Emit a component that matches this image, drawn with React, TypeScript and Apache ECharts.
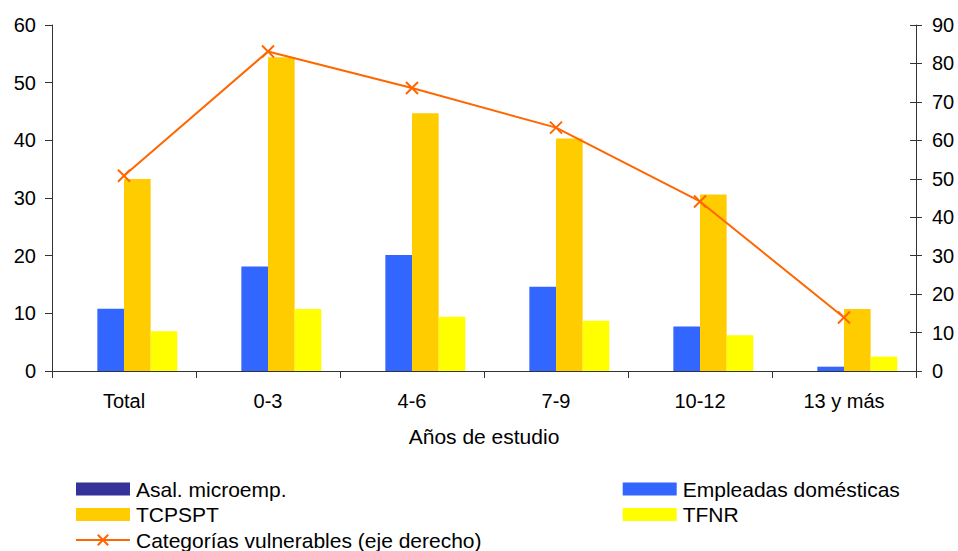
import React, { useEffect, useRef } from "react";
import * as echarts from "echarts";

const categories = ["Total", "0-3", "4-6", "7-9", "10-12", "13 y más"];
const asalMicroemp = [null, null, null, null, null, null];
const empleadasDomesticas = [10.8, 18.1, 20.1, 14.6, 7.7, 0.75];
const tcpspt = [33.3, 54.4, 44.7, 40.3, 30.6, 10.75];
const tfnr = [6.9, 10.75, 9.4, 8.7, 6.2, 2.5];
const categoriasVulnerables = [50.8, 83.1, 73.6, 63.3, 44.1, 13.9];
const leftTicks = { min: 0, max: 60, interval: 10 };
const rightTicks = { min: 0, max: 90, interval: 10 };

const FONT = "'Liberation Sans', Arial, sans-serif";
const AXIS_COLOR = "#333333";

export default function App() {
  const ref = useRef<HTMLDivElement>(null);
  useEffect(() => {
    document.body.style.margin = "0";
    if (!ref.current) return;
    const chart = echarts.init(ref.current, undefined, { renderer: "svg" });
    const barBase = {
      type: "bar" as const,
      barGap: "0%",
      barCategoryGap: "26%",
      yAxisIndex: 0,
    };
    const legendText = { fontFamily: FONT, fontSize: 21, lineHeight: 21, color: "#000", padding: [0, 0, 0, 1] };
    chart.setOption({
      animation: false,
      backgroundColor: "#ffffff",
      textStyle: { fontFamily: FONT },
      grid: { left: 52, right: 42, top: 25, bottom: 180, containLabel: false },
      legend: [
        {
          orient: "vertical",
          left: 75,
          top: 478.5,
          height: 80,
          padding: 0,
          itemWidth: 54,
          itemHeight: 13,
          itemGap: 4.5,
          data: [
            { name: "Asal. microemp.", icon: "rect" },
            { name: "TCPSPT", icon: "rect" },
            { name: "Categorías vulnerables (eje derecho)" },
          ],
          textStyle: legendText,
        },
        {
          orient: "vertical",
          left: 622.7,
          top: 478.5,
          height: 80,
          padding: 0,
          itemWidth: 54,
          itemHeight: 13,
          itemGap: 4.5,
          data: [
            { name: "Empleadas domésticas", icon: "rect" },
            { name: "TFNR", icon: "rect" },
          ],
          textStyle: legendText,
        },
      ],
      xAxis: {
        type: "category",
        data: categories,
        name: "Años de estudio",
        nameLocation: "middle",
        nameGap: 55,
        nameTextStyle: { fontFamily: FONT, fontSize: 21, color: "#000" },
        axisLine: { lineStyle: { color: AXIS_COLOR, width: 1 } },
        axisTick: { show: true, length: 7, lineStyle: { color: AXIS_COLOR } },
        axisLabel: { fontFamily: FONT, fontSize: 20, color: "#000", margin: 20 },
        splitLine: { show: false },
      },
      yAxis: [
        {
          type: "value",
          position: "left",
          ...leftTicks,
          axisLine: { show: true, lineStyle: { color: AXIS_COLOR, width: 1 } },
          axisTick: { show: true, length: 7, lineStyle: { color: AXIS_COLOR } },
          axisLabel: { fontFamily: FONT, fontSize: 20, color: "#000", margin: 16 },
          splitLine: { show: false },
        },
        {
          type: "value",
          position: "right",
          ...rightTicks,
          axisLine: { show: true, lineStyle: { color: AXIS_COLOR, width: 1 } },
          axisTick: { show: true, length: 6, lineStyle: { color: AXIS_COLOR } },
          axisLabel: { fontFamily: FONT, fontSize: 20, color: "#000", margin: 16 },
          splitLine: { show: false },
        },
        {
          type: "value",
          position: "right",
          ...rightTicks,
          axisLine: { show: false },
          axisTick: { show: true, inside: true, length: 6, lineStyle: { color: AXIS_COLOR } },
          axisLabel: { show: false },
          splitLine: { show: false },
        },
      ],
      series: [
        { ...barBase, name: "Asal. microemp.", data: asalMicroemp, itemStyle: { color: "#333399" } },
        { ...barBase, name: "Empleadas domésticas", data: empleadasDomesticas, itemStyle: { color: "#3366FF" } },
        { ...barBase, name: "TCPSPT", data: tcpspt, itemStyle: { color: "#FFCC00" } },
        { ...barBase, name: "TFNR", data: tfnr, itemStyle: { color: "#FFFF00" } },
        {
          type: "line",
          name: "Categorías vulnerables (eje derecho)",
          yAxisIndex: 1,
          data: categoriasVulnerables,
          symbol: "path://M0,0L10,10M10,0L0,10",
          symbolSize: 12,
          showSymbol: true,
          lineStyle: { color: "#FF6600", width: 2 },
          itemStyle: { color: "#FF6600", borderColor: "#FF6600", borderWidth: 2 },
        },
      ],
    });
    return () => chart.dispose();
  }, []);
  return <div ref={ref} style={{ width: 958, height: 551 }} />;
}
